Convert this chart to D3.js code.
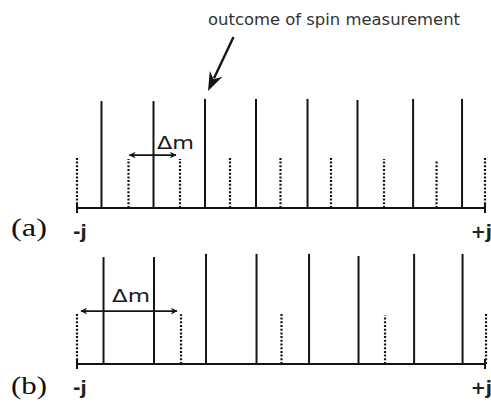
<!DOCTYPE html>
<html>
<head>
<meta charset="utf-8">
<script src="https://cdn.jsdelivr.net/npm/d3@7"></script>
<style>
  html, body { margin: 0; padding: 0; background: #fff; }
  svg { display: block; }
</style>
</head>
<body>
<svg id="chart" width="491" height="408"></svg>
<script>
// Spin-projection ladders: m runs from -j (0) to +j (8) in units of the level spacing.
// Solid lines: measurement outcomes; dotted lines: the other sublevels.
const panelLabels = ["(a)", "(b)"];
const endLabels = ["-j", "+j"];
const annotation = "outcome of spin measurement";
const deltaLabel = "\u0394m";

// Panel (a)
const solidA_m = [0.48, 1.50, 2.51, 3.51, 4.52, 5.50, 6.59, 7.55];
const solidA_h = [0.99, 0.99, 1.01, 1.01, 1.01, 1.00, 1.01, 1.01];
const dottedA_m = [0.0, 1.01, 2.02, 3.0, 3.99, 4.98, 6.02, 7.05, 8.0];
const dottedA_h = [0.475, 0.454, 0.454, 0.475, 0.475, 0.475, 0.454, 0.438, 0.463];
const spanA = [1.01, 1.94];   // Δm arrow: one spacing

// Panel (b)
const solidB_m = [0.52, 1.51, 2.53, 3.52, 4.55, 5.52, 6.61, 7.56];
const solidB_h = [0.99, 0.99, 1.02, 1.02, 1.02, 1.00, 1.02, 1.02];
const dottedB_m = [0.0, 2.04, 4.01, 6.04, 8.02];
const dottedB_h = [0.47, 0.46, 0.48, 0.45, 0.47];
const spanB = [0.06, 1.96];   // Δm arrow: two spacings

const svg = d3.select("#chart");
const ink = "#141414";

const x = d3.scaleLinear().domain([0, 8]).range([77, 485]);

svg.append("defs").append("marker")
  .attr("id", "head")
  .attr("viewBox", "0 0 10 10")
  .attr("refX", 9).attr("refY", 5)
  .attr("markerWidth", 4.2).attr("markerHeight", 4.2)
  .attr("markerUnits", "strokeWidth")
  .attr("orient", "auto-start-reverse")
  .append("path")
  .attr("d", "M0,0 L10,5 L0,10 L3,5 Z")
  .attr("fill", ink);

function drawPanel(base, solidM, solidH, dotM, dotH, span, label, labelDy) {
  const y = d3.scaleLinear().domain([0, 1]).range([base, base - 108]);
  const g = svg.append("g");

  // baseline axis with end ticks
  g.append("line")
    .attr("x1", x(0)).attr("x2", x(8))
    .attr("y1", base).attr("y2", base)
    .attr("stroke", ink).attr("stroke-width", 2);
  [0, 8].forEach(v => {
    g.append("line")
      .attr("x1", x(v)).attr("x2", x(v))
      .attr("y1", base - 5).attr("y2", base + 5)
      .attr("stroke", ink).attr("stroke-width", 2);
  });

  // dotted sublevels
  g.selectAll("line.dot").data(dotM).join("line")
    .attr("class", "dot")
    .attr("x1", d => x(d)).attr("x2", d => x(d))
    .attr("y1", base).attr("y2", (d, i) => y(dotH[i]))
    .attr("stroke", ink).attr("stroke-width", 2.2)
    .attr("stroke-dasharray", "2,1.7");

  // solid outcomes
  g.selectAll("line.sol").data(solidM).join("line")
    .attr("class", "sol")
    .attr("x1", d => x(d)).attr("x2", d => x(d))
    .attr("y1", base).attr("y2", (d, i) => y(solidH[i]))
    .attr("stroke", ink).attr("stroke-width", 2);

  // Δm double arrow
  const ay = y(0.49);
  g.append("line")
    .attr("x1", x(span[0]) + 1).attr("x2", x(span[1]))
    .attr("y1", ay).attr("y2", ay)
    .attr("stroke", ink).attr("stroke-width", 1.6)
    .attr("marker-start", "url(#head)")
    .attr("marker-end", "url(#head)");

  // end labels
  g.append("text").text(endLabels[0])
    .attr("x", x(0) - 4).attr("y", base + 30)
    .attr("font-family", "DejaVu Sans").attr("font-weight", "bold")
    .attr("font-size", 18).attr("fill", "#222");
  g.append("text").text(endLabels[1])
    .attr("x", x(8) + 7).attr("y", base + 30)
    .attr("text-anchor", "end")
    .attr("font-family", "DejaVu Sans").attr("font-weight", "bold")
    .attr("font-size", 18).attr("fill", "#222");

  // panel label
  g.append("text").text(label)
    .attr("x", 11).attr("y", base + labelDy)
    .attr("font-family", "Liberation Serif")
    .attr("font-size", 26).attr("fill", "#111")
    .attr("textLength", 36).attr("lengthAdjust", "spacingAndGlyphs");
  return y;
}

drawPanel(208, solidA_m, solidA_h, dottedA_m, dottedA_h, spanA, panelLabels[0], 28);
drawPanel(364, solidB_m, solidB_h, dottedB_m, dottedB_h, spanB, panelLabels[1], 30);

// Δm labels
svg.append("text").text(deltaLabel)
  .attr("x", 157).attr("y", 149)
  .attr("font-family", "DejaVu Sans").attr("font-size", 17).attr("fill", "#1a1a1a")
  .attr("textLength", 37).attr("lengthAdjust", "spacingAndGlyphs");
svg.append("text").text(deltaLabel)
  .attr("x", 112).attr("y", 302)
  .attr("font-family", "DejaVu Sans").attr("font-size", 18).attr("fill", "#1a1a1a")
  .attr("textLength", 38).attr("lengthAdjust", "spacingAndGlyphs");

// annotation pointing at the third outcome in panel (a)
svg.append("text").text(annotation)
  .attr("x", 208).attr("y", 25)
  .attr("font-family", "DejaVu Sans").attr("font-size", 15).attr("fill", "#333")
  .attr("textLength", 252).attr("lengthAdjust", "spacingAndGlyphs");

const tipX = x(solidA_m[2]) + 3, tipY = 91;
const tailX = 233.5, tailY = 37;
const ang = Math.atan2(tipY - tailY, tipX - tailX);
const hl = 17, hw = 7;
const bx = tipX - hl * Math.cos(ang), by = tipY - hl * Math.sin(ang);
svg.append("line")
  .attr("x1", tailX).attr("y1", tailY)
  .attr("x2", bx + 3 * Math.cos(ang)).attr("y2", by + 3 * Math.sin(ang))
  .attr("stroke", ink).attr("stroke-width", 2.4);
svg.append("path")
  .attr("d", d3.line()([
    [tipX, tipY],
    [bx - hw * Math.sin(ang) - 2 * Math.cos(ang), by + hw * Math.cos(ang) - 2 * Math.sin(ang)],
    [bx + 4 * Math.cos(ang), by + 4 * Math.sin(ang)],
    [bx + hw * Math.sin(ang) - 2 * Math.cos(ang), by - hw * Math.cos(ang) - 2 * Math.sin(ang)]
  ]) + "Z")
  .attr("fill", ink);
</script>
</body>
</html>
